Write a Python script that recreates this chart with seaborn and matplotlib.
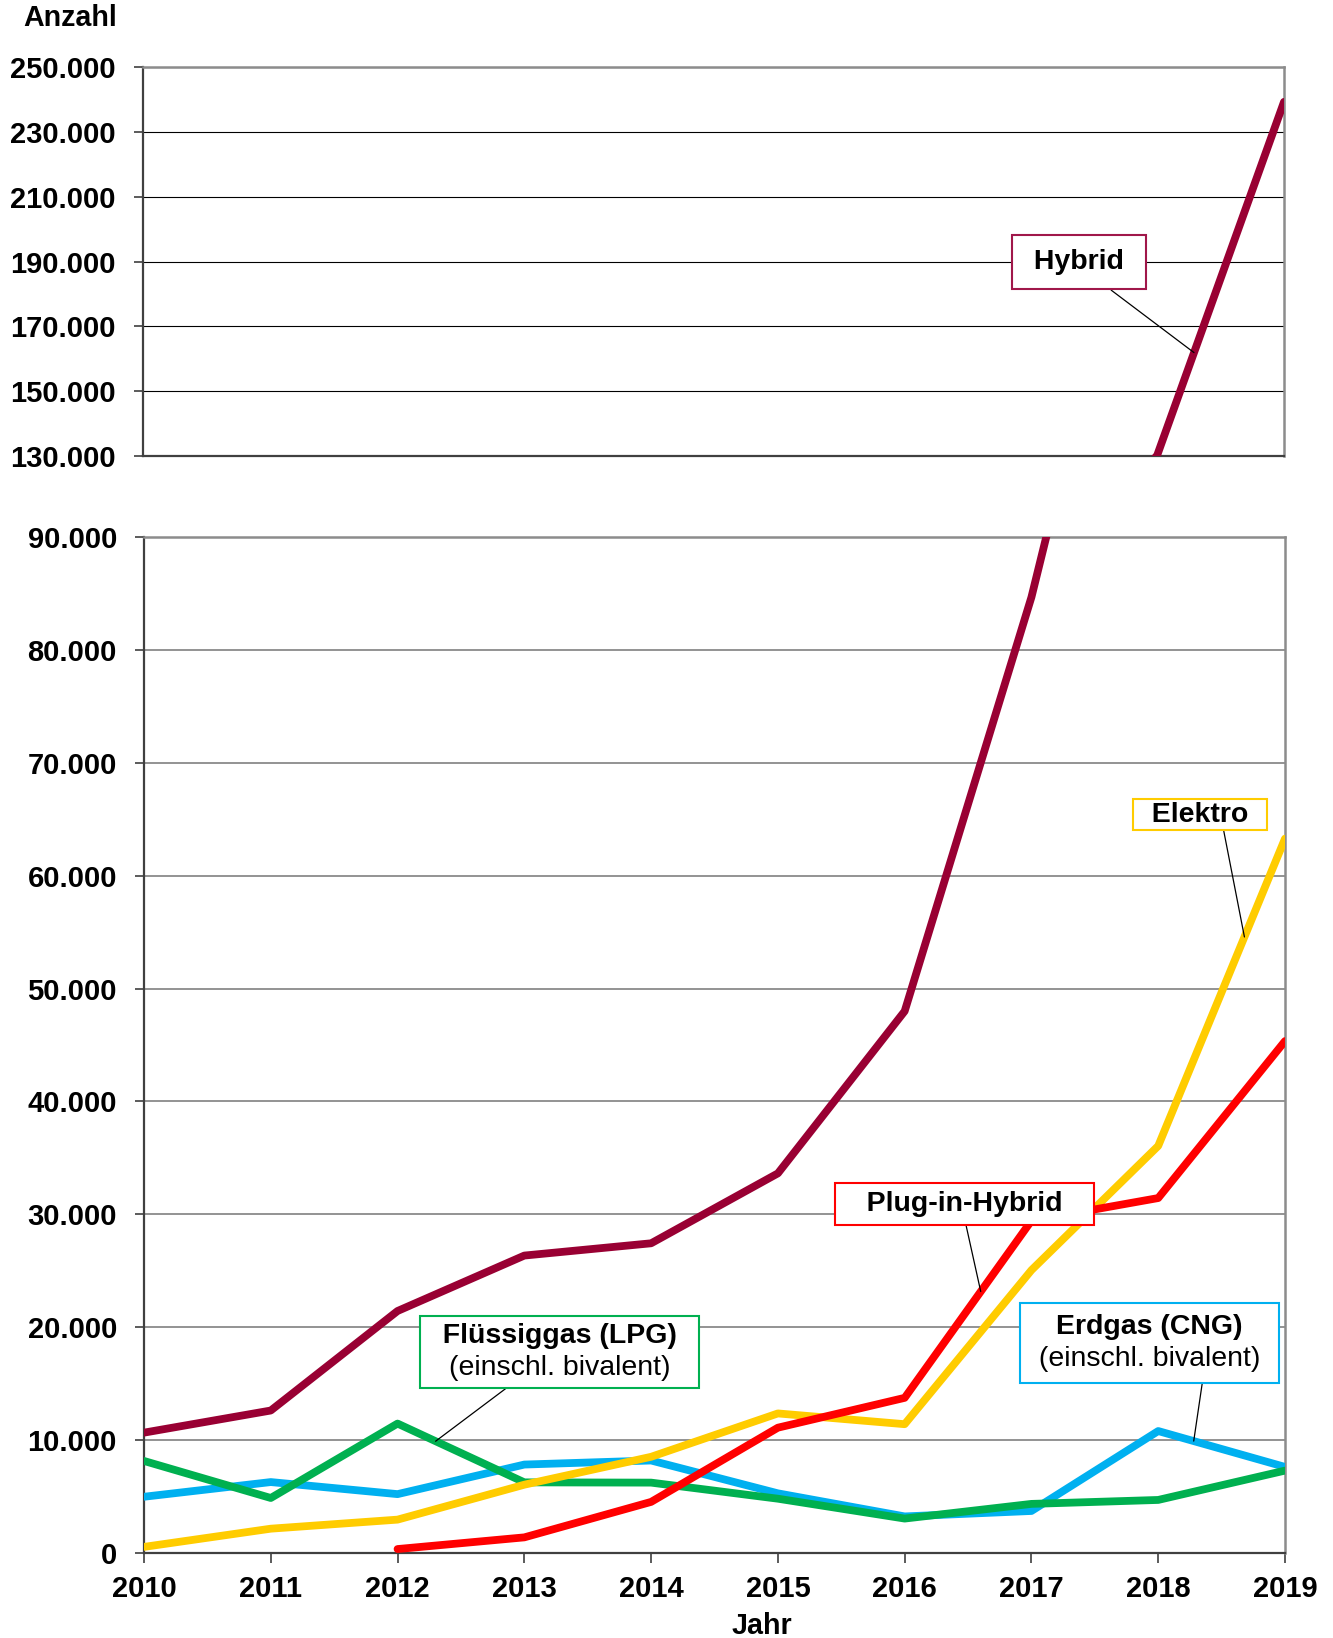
import matplotlib
matplotlib.use("Agg")
import matplotlib.pyplot as plt
import seaborn as sns
import pandas as pd
import numpy as np
from matplotlib.ticker import FuncFormatter
from matplotlib.offsetbox import TextArea, VPacker, AnnotationBbox

# ---------------- data ----------------
years = [2010, 2011, 2012, 2013, 2014, 2015, 2016, 2017, 2018, 2019]
hybrid = [10661, 12622, 21438, 26348, 27435, 33630, 47996, 84675, 130258, 239250]
elektro = [541, 2154, 2956, 6051, 8522, 12363, 11410, 25056, 36062, 63281]
plugin = [np.nan, np.nan, 350, 1385, 4527, 11101, 13744, 29436, 31442, 45348]
erdgas = [4982, 6283, 5215, 7835, 8194, 5285, 3240, 3723, 10804, 7624]
lpg = [8154, 4873, 11465, 6258, 6234, 4810, 3050, 4350, 4700, 7300]

series_names = ["Erdgas (CNG)", "Flüssiggas (LPG)", "Elektro", "Plug-in-Hybrid", "Hybrid"]
series_values = [erdgas, lpg, elektro, plugin, hybrid]
colors = ["#00B0F0", "#00B050", "#FFCC00", "#FF0000", "#990033"]

top_ticks = [130000, 150000, 170000, 190000, 210000, 230000, 250000]
bottom_ticks = [0, 10000, 20000, 30000, 40000, 50000, 60000, 70000, 80000, 90000]
year_labels = [str(y) for y in years]

rows = []
for name, vals in zip(series_names, series_values):
    for y, v in zip(years, vals):
        rows.append({"Jahr": y, "Anzahl": v, "Antrieb": name})
df = pd.DataFrame(rows)
palette = dict(zip(series_names, colors))

# ---------------- style ----------------
sns.set_theme(style="white")
plt.rcParams["font.family"] = ["Liberation Sans", "DejaVu Sans"]
plt.rcParams["font.weight"] = "bold"
plt.rcParams["text.color"] = "black"
plt.rcParams["xtick.labelcolor"] = "black"
plt.rcParams["ytick.labelcolor"] = "black"

W, H = 1333, 1638
fig = plt.figure(figsize=(W / 100, H / 100), dpi=100)
ax_top = fig.add_axes([143 / W, 1 - 456 / H, (1284 - 143) / W, (456 - 67) / H])
ax_bot = fig.add_axes([144 / W, 1 - 1553 / H, (1285 - 144) / W, (1553 - 537) / H])

fmt = FuncFormatter(lambda v, p: f"{int(round(v)):,}".replace(",", "."))

for ax in (ax_top, ax_bot):
    sns.lineplot(data=df, x="Jahr", y="Anzahl", hue="Antrieb", hue_order=series_names,
                 palette=palette, linewidth=5.6, legend=False, errorbar=None, ax=ax,
                 solid_capstyle="round", solid_joinstyle="round", zorder=3)
    ax.set_xlabel("")
    ax.set_ylabel("")
    ax.set_xlim(years[0], years[-1])
    ax.yaxis.set_major_formatter(fmt)
    ax.tick_params(axis="y", direction="out", length=6.5, width=1.2, color="#404040",
                   pad=13, labelsize=21, left=True, labelcolor="black")
    for side in ("top", "right"):
        ax.spines[side].set_color("#8c8c8c")
        ax.spines[side].set_linewidth(1.8)
    for side in ("left", "bottom"):
        ax.spines[side].set_color("#404040")
        ax.spines[side].set_linewidth(1.6)
    ax.set_axisbelow(True)

ax_top.set_ylim(top_ticks[0], top_ticks[-1])
ax_top.set_yticks(top_ticks)
ax_top.set_xticks([])
ax_top.yaxis.grid(True, color="black", linewidth=0.8)

ax_bot.set_ylim(bottom_ticks[0], bottom_ticks[-1])
ax_bot.set_yticks(bottom_ticks)
ax_bot.set_xticks(years)
ax_bot.set_xticklabels(year_labels)
ax_bot.tick_params(axis="x", direction="out", length=7, width=1.2, color="#404040",
                   pad=9, labelsize=21, bottom=True, labelcolor="black")
ax_bot.yaxis.grid(True, color="#808080", linewidth=1.2)

for ax in (ax_top, ax_bot):
    for lab in ax.get_yticklabels() + ax.get_xticklabels():
        lab.set_fontweight("bold")
        lab.set_color("black")

# ---------------- annotations ----------------
def box_label(ax, text, xy, xytext, color, relx, pad):
    ax.annotate(text, xy=xy, xytext=xytext, textcoords="data", ha="center", va="center",
                fontsize=20.5, fontweight="bold", color="black", zorder=10,
                bbox=dict(boxstyle=f"square,pad={pad}", fc="white", ec=color, lw=1.5),
                arrowprops=dict(arrowstyle="-", color="black", lw=0.9, relpos=(relx, 0),
                                shrinkA=0, shrinkB=0))

def two_line_label(ax, line1, line2, xy, xybox, color, relx, pad):
    t1 = TextArea(line1, textprops=dict(fontsize=20.5, fontweight="bold", color="black"))
    t2 = TextArea(line2, textprops=dict(fontsize=20.5, fontweight="normal", color="black"))
    pack = VPacker(children=[t1, t2], align="center", pad=0, sep=4)
    ab = AnnotationBbox(pack, xy, xybox=xybox, xycoords="data", boxcoords="data",
                        box_alignment=(0.5, 0.5), pad=pad, fontsize=20.5,
                        bboxprops=dict(edgecolor=color, facecolor="white", lw=1.5),
                        arrowprops=dict(arrowstyle="-", color="black", lw=0.9,
                                        relpos=(relx, 0), shrinkA=0, shrinkB=0),
                        zorder=10)
    ax.add_artist(ab)

box_label(ax_top, " Hybrid ", (2018.29, 161900), (2017.38, 189800), "#A0174A", 0.62, 0.5)
box_label(ax_bot, "  Elektro  ", (2018.68, 54570), (2018.33, 65400), "#FFCC00", 0.68, 0.09)
box_label(ax_bot, "   Plug-in-Hybrid   ", (2016.6, 23160), (2016.47, 30900), "#FF0000", 0.5, 0.28)
two_line_label(ax_bot, "Erdgas (CNG)", " (einschl. bivalent) ", (2018.28, 9914),
               (2017.93, 18600), "#00B0F0", 0.73, 0.38)
two_line_label(ax_bot, "  Flüssiggas (LPG)  ", "(einschl. bivalent)", (2012.3, 9900),
               (2013.28, 17800), "#00B050", 0.335, 0.24)

# ---------------- texts ----------------
fig.text(23 / W, 1 - 18 / H, "Anzahl", ha="left", va="center", fontsize=20.6, fontweight="bold")
fig.text(762 / W, 1 - 1634 / H, "Jahr", ha="center", va="baseline", fontsize=20.6, fontweight="bold")

fig.savefig("out.png", dpi=100)
